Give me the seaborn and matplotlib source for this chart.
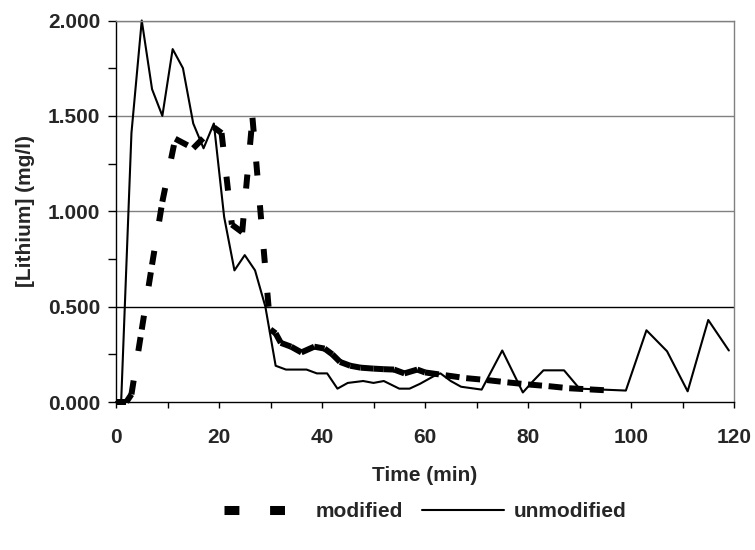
import numpy as np
import pandas as pd
import matplotlib
matplotlib.use('Agg')
import matplotlib.pyplot as plt
import matplotlib.ticker as mticker
import seaborn as sns

# values
unmod_time = [0, 1, 3, 5, 7, 9, 11, 13, 15, 17, 19, 21, 23, 25, 27, 29, 31, 33, 37, 39,
              41, 43, 45, 48, 50, 52, 55, 57, 59, 62, 63, 65, 67, 71, 75, 79, 81, 83, 87, 90,
              99, 103, 107, 111, 115, 119]
unmod_li = [0, 0, 1.41, 2.0, 1.64, 1.50, 1.85, 1.75, 1.46, 1.33, 1.46, 0.97, 0.69, 0.77, 0.69, 0.50, 0.19, 0.17, 0.17, 0.15,
            0.15, 0.07, 0.10, 0.11, 0.10, 0.11, 0.07, 0.07, 0.095, 0.14, 0.15, 0.11, 0.08, 0.065, 0.27, 0.05, 0.11, 0.166, 0.166, 0.07,
            0.06, 0.376, 0.266, 0.056, 0.43, 0.27]

mod_time = [0, 1, 2, 3, 5, 7, 9, 11.5, 15, 19, 20.5, 22.5, 24.5, 26.5, 30, 31, 32, 34,
            36, 38.5, 40.5, 42, 43.5, 45.5, 47.5, 50, 52, 54, 56, 58.5, 60, 64, 68, 72, 76, 80, 84, 88,
            92, 96]
mod_li = [0, 0, 0, 0.04, 0.38, 0.72, 1.05, 1.38, 1.33, 1.44, 1.41, 0.93, 0.89, 1.49, 0.38, 0.36, 0.31, 0.29,
          0.26, 0.29, 0.28, 0.25, 0.21, 0.19, 0.18, 0.175, 0.172, 0.17, 0.15, 0.17, 0.155, 0.14, 0.125, 0.115, 0.103, 0.092, 0.083, 0.072,
          0.066, 0.06]

series_names = ['modified', 'unmodified']

# the old spreadsheet restarts the dash pattern at every data point,
# so the modified series is drawn one segment at a time (units)
rows = []
for i in range(len(mod_time) - 1):
    rows.append((mod_time[i], mod_li[i], 'modified', i))
    rows.append((mod_time[i + 1], mod_li[i + 1], 'modified', i))
for t, v in zip(unmod_time, unmod_li):
    rows.append((t, v, 'unmodified', 1000))
df = pd.DataFrame(rows, columns=['Time', 'Lithium', 'series', 'seg'])

sns.set_theme(style='white')
plt.rcParams['font.family'] = ['Liberation Sans', 'DejaVu Sans']
plt.rcParams['font.weight'] = 'bold'
fs = 15

fig = plt.figure(figsize=(7.55, 5.5), dpi=100)
ax = fig.add_axes([116 / 755, 1 - 402 / 550, 618 / 755, 381.5 / 550])

# horizontal gridlines (0.5 drawn black, the rest grey, like the original)
for yv, col in [(0.5, 'black'), (1.0, '#808080'), (1.5, '#808080'), (2.0, '#808080')]:
    ax.axhline(yv, color=col, lw=1.0, zorder=0)

sns.lineplot(data=df, x='Time', y='Lithium', hue='series', style='series', size='series',
             units='seg', estimator=None, sort=False,
             hue_order=series_names, style_order=series_names, size_order=series_names,
             palette={'modified': 'black', 'unmodified': 'black'},
             dashes={'modified': (2.35, 5.0), 'unmodified': ''},
             sizes={'modified': 4.3, 'unmodified': 1.5},
             ax=ax, clip_on=False)

ax.set_xlim(0, 120)
ax.set_ylim(0, 2.0)
ax.xaxis.set_major_locator(mticker.MultipleLocator(20))
ax.xaxis.set_minor_locator(mticker.MultipleLocator(10))
ax.yaxis.set_major_locator(mticker.MultipleLocator(0.5))
ax.yaxis.set_minor_locator(mticker.MultipleLocator(0.25))
ax.yaxis.set_major_formatter(mticker.FormatStrFormatter('%.3f'))

ax.tick_params(axis='x', which='both', direction='out', length=4.5, width=1, color='black',
               bottom=True, labelsize=fs, pad=14)
ax.tick_params(axis='y', which='both', direction='out', length=6, width=1, color='black',
               left=True, labelsize=fs, pad=5.5)
for lab in ax.get_xticklabels() + ax.get_yticklabels():
    lab.set_fontweight('bold')

for s in ['left', 'bottom']:
    ax.spines[s].set_color('black')
    ax.spines[s].set_linewidth(1.0)
for s in ['top', 'right']:
    ax.spines[s].set_color('#808080')
    ax.spines[s].set_linewidth(1.0)

ax.set_xlabel('Time (min)', fontsize=fs, fontweight='bold', labelpad=14)
ax.set_ylabel('[Lithium] (mg/l)', fontsize=fs, fontweight='bold', labelpad=9)

sns.move_legend(ax, 'center', bbox_to_anchor=(0.5, -0.288), ncol=2, frameon=False,
                title=None, fontsize=fs, handlelength=3.95, handletextpad=0.45,
                columnspacing=0.9)
leg = ax.get_legend()
for t in leg.get_texts():
    t.set_fontweight('bold')
leg_lines = leg.get_lines()
leg_lines[0].set_linewidth(6.5)
leg_lines[0].set_dashes((1.65, 3.4))
leg_lines[1].set_linewidth(1.5)

fig.savefig('out.png', dpi=100)
